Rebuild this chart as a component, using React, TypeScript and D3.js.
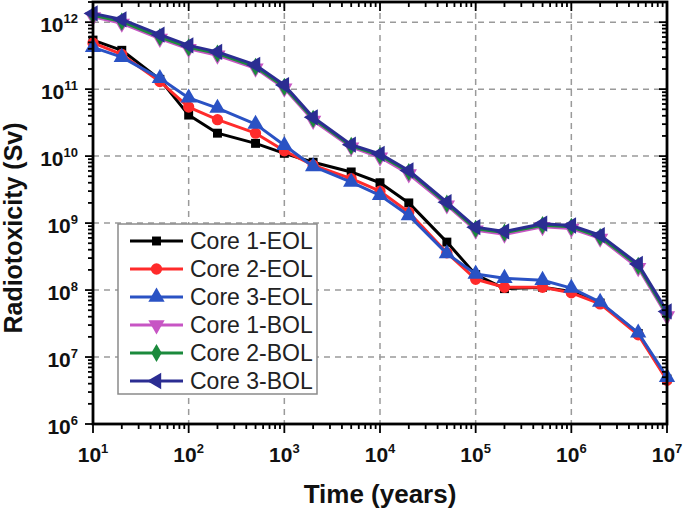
import * as d3 from "d3";

const times = [10, 20, 50, 100, 200, 500, 1e3, 2e3, 5e3, 1e4, 2e4, 5e4, 1e5, 2e5, 5e5, 1e6, 2e6, 5e6, 1e7];

const core1EOL = [5.4e11, 3.8e11, 1.4e11, 4.1e10, 2.2e10, 1.55e10, 1.1e10, 8.1e9, 5.8e9, 4.0e9, 2.0e9, 5.2e8, 1.7e8, 1.05e8, 1.1e8, 9.5e7, 6.4e7, 2.25e7, 4.7e6];
const core2EOL = [4.9e11, 3.3e11, 1.3e11, 5.4e10, 3.5e10, 2.2e10, 1.2e10, 7.3e9, 4.6e9, 3.0e9, 1.45e9, 3.6e8, 1.45e8, 1.1e8, 1.1e8, 9.1e7, 6.2e7, 2.15e7, 4.5e6];
const core3EOL = [4.2e11, 3.0e11, 1.45e11, 7.4e10, 5.2e10, 3.0e10, 1.45e10, 7.0e9, 4.1e9, 2.6e9, 1.3e9, 3.5e8, 1.74e8, 1.5e8, 1.4e8, 1.07e8, 6.6e7, 2.3e7, 5.0e6];
const core1BOL = [1.2e12, 9.6e11, 5.7e11, 4.0e11, 3.2e11, 2.05e11, 1.03e11, 3.4e10, 1.36e10, 9.6e9, 5.4e9, 1.85e9, 7.8e8, 6.8e8, 8.8e8, 8.3e8, 5.9e8, 2.15e8, 4.1e7];
const core2BOL = [1.27e12, 1.02e12, 6.0e11, 4.2e11, 3.4e11, 2.15e11, 1.08e11, 3.6e10, 1.42e10, 1.02e10, 5.8e9, 1.95e9, 8.2e8, 7.2e8, 9.3e8, 8.8e8, 6.2e8, 2.3e8, 4.4e7];
const core3BOL = [1.35e12, 1.1e12, 6.5e11, 4.5e11, 3.6e11, 2.3e11, 1.15e11, 3.8e10, 1.48e10, 1.08e10, 6.1e9, 2.05e9, 8.7e8, 7.5e8, 9.8e8, 9.2e8, 6.6e8, 2.45e8, 4.8e7];

const seriesNames = ["Core 1-EOL", "Core 2-EOL", "Core 3-EOL", "Core 1-BOL", "Core 2-BOL", "Core 3-BOL"];
const seriesValues = [core1EOL, core2EOL, core3EOL, core1BOL, core2BOL, core3BOL];
const seriesColors = ["#000000", "#ff2b2b", "#2a52c4", "#c755c4", "#1b8a3c", "#2b2d92"];

const xExps = [1, 2, 3, 4, 5, 6, 7];
const yExps = [6, 7, 8, 9, 10, 11, 12];

const W = 685;
const H = 512;
const L = 93, R = 667, T = 2, B = 424;
const font = "'Liberation Sans', Arial, Helvetica, sans-serif";

// marker shapes per series
const markerPath = (i: number) => {
  const sym = d3.symbol();
  if (i === 0) return { d: sym.type(d3.symbolSquare).size(80)(), rot: 0 };
  if (i === 1) return { d: sym.type(d3.symbolCircle).size(100)(), rot: 0 };
  if (i === 2) return { d: sym.type(d3.symbolTriangle).size(115)(), rot: 0 };
  if (i === 3) return { d: sym.type(d3.symbolTriangle).size(115)(), rot: 180 };
  if (i === 4) return { d: sym.type(d3.symbolDiamond).size(95)(), rot: 0 };
  return { d: sym.type(d3.symbolTriangle).size(115)(), rot: -90 };
};

export default function App() {
  const x = d3.scaleLog().domain([10, 1e7]).range([L, R]);
  const y = d3.scaleLog().domain([1e6, 2e12]).range([B, T]);

  const line = d3
    .line<number>()
    .x((_, i) => x(times[i]))
    .y((v) => y(v));

  const xMinor: number[] = [];
  for (let e = 1; e < 7; e++) for (let m = 2; m <= 9; m++) xMinor.push(m * 10 ** e);
  const yMinor: number[] = [];
  for (let e = 6; e <= 12; e++) for (let m = 2; m <= 9; m++) if (m * 10 ** e <= 2e12) yMinor.push(m * 10 ** e);

  return (
    <svg width={W} height={H} style={{ position: "absolute", left: 0, top: 0, background: "#fff" }} fontFamily={font}>
      {/* grid */}
      <g stroke="#9a9a9a" strokeWidth={1.5} strokeDasharray="6,5">
        {xExps.slice(1, -1).map((e) => (
          <line key={"gx" + e} x1={x(10 ** e)} x2={x(10 ** e)} y1={T} y2={B} />
        ))}
        {yExps.slice(1).map((e) => (
          <line key={"gy" + e} x1={L} x2={R} y1={y(10 ** e)} y2={y(10 ** e)} />
        ))}
      </g>

      {/* series */}
      {seriesValues.map((vals, si) => {
        const m = markerPath(si);
        return (
          <g key={seriesNames[si]}>
            <path d={line(vals) || ""} fill="none" stroke={seriesColors[si]} strokeWidth={3} strokeLinejoin="round" />
            {vals.map((v, i) => (
              <path
                key={i}
                d={m.d || ""}
                transform={`translate(${x(times[i])},${y(v)}) rotate(${m.rot})`}
                fill={seriesColors[si]}
              />
            ))}
          </g>
        );
      })}

      {/* ticks */}
      <g stroke="#000" strokeWidth={1.8}>
        {xExps.map((e) => (
          <g key={"tx" + e}>
            <line x1={x(10 ** e)} x2={x(10 ** e)} y1={B} y2={B + 9} />
            <line x1={x(10 ** e)} x2={x(10 ** e)} y1={T} y2={T + 9} />
          </g>
        ))}
        {xMinor.map((v) => (
          <g key={"mx" + v}>
            <line x1={x(v)} x2={x(v)} y1={B} y2={B + 5} />
            <line x1={x(v)} x2={x(v)} y1={T} y2={T + 5} />
          </g>
        ))}
        {yExps.map((e) => (
          <g key={"ty" + e}>
            <line x1={L - 8} x2={L} y1={y(10 ** e)} y2={y(10 ** e)} />
            <line x1={R - 8} x2={R} y1={y(10 ** e)} y2={y(10 ** e)} />
          </g>
        ))}
        {yMinor.map((v) => (
          <g key={"my" + v}>
            <line x1={L - 5} x2={L} y1={y(v)} y2={y(v)} />
            <line x1={R - 5} x2={R} y1={y(v)} y2={y(v)} />
          </g>
        ))}
      </g>

      {/* frame */}
      <rect x={L} y={T} width={R - L} height={B - T} fill="none" stroke="#000" strokeWidth={2.8} />

      {/* tick labels */}
      <g fontWeight="bold" fill="#111">
        {xExps.map((e) => (
          <text key={"lx" + e} x={x(10 ** e)} y={B + 38} textAnchor="middle" fontSize={21}>
            10
            <tspan dy={-9} fontSize={13}>
              {e}
            </tspan>
          </text>
        ))}
        {yExps.map((e) => (
          <text key={"ly" + e} x={L - 15} y={y(10 ** e) + 10} textAnchor="end" fontSize={21}>
            10
            <tspan dy={-9} fontSize={13}>
              {e}
            </tspan>
          </text>
        ))}
      </g>

      {/* axis titles */}
      <text x={(L + R) / 2} y={503} textAnchor="middle" fontSize={26} fontWeight="bold" fill="#111">
        Time (years)
      </text>
      <text
        transform={`translate(22,${(T + B) / 2 + 15}) rotate(-90)`}
        textAnchor="middle"
        fontSize={25}
        fontWeight="bold"
        fill="#111"
      >
        Radiotoxicity (Sv)
      </text>

      {/* legend */}
      <g>
        <rect x={118} y={224} width={199} height={170} fill="#fff" stroke="#8a8a8a" strokeWidth={1.5} />
        {seriesNames.map((name, si) => {
          const m = markerPath(si);
          const ly = 241 + si * 28;
          return (
            <g key={"leg" + si}>
              <line x1={130} x2={183} y1={ly} y2={ly} stroke={seriesColors[si]} strokeWidth={3} />
              <path d={m.d || ""} transform={`translate(156.5,${ly}) rotate(${m.rot})`} fill={seriesColors[si]} />
              <text x={190} y={ly + 8} fontSize={23} fill="#222">
                {name}
              </text>
            </g>
          );
        })}
      </g>
    </svg>
  );
}
